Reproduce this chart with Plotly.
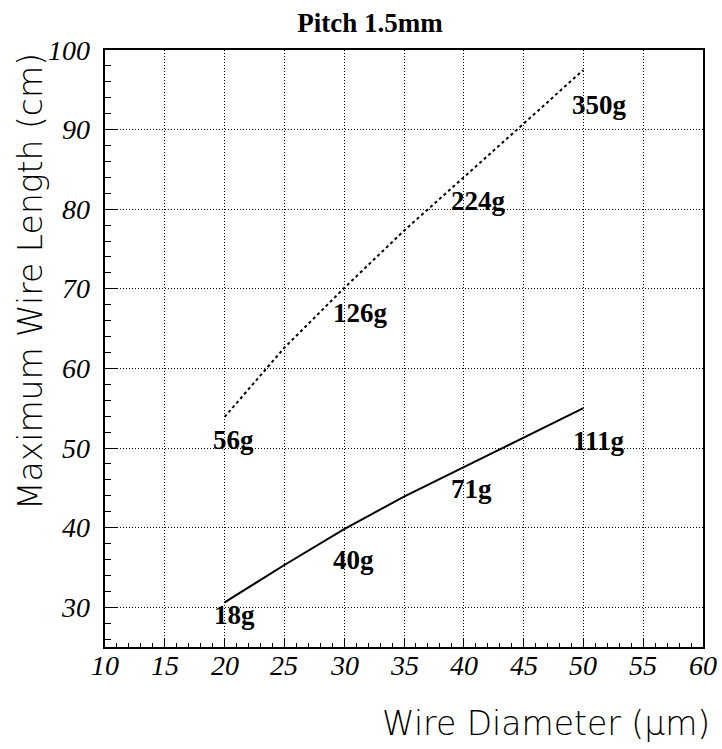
import plotly.graph_objects as go

# Wire diameter (um) and maximum stable wire length (cm) for two tensions
diameter = [20, 25, 30, 35, 40, 45, 50]
length_low_tension = [30.6, 35.3, 39.8, 43.9, 47.6, 51.3, 55.0]
length_high_tension = [53.9, 62.6, 70.1, 77.3, 84.0, 90.8, 97.5]

# Wire tension annotations at selected diameters
label_diameter = [20, 30, 40, 50]
tension_low = ["18g", "40g", "71g", "111g"]
tension_high = ["56g", "126g", "224g", "350g"]

x_ticks = [10, 15, 20, 25, 30, 35, 40, 45, 50, 55, 60]
y_ticks = [30, 40, 50, 60, 70, 80, 90, 100]

W, H = 722, 749
ML, MR, MT, MB = 105, 19, 50, 102

fig = go.Figure()

fig.add_trace(go.Scatter(
    x=diameter, y=length_low_tension, mode="lines",
    line=dict(color="black", width=2), showlegend=False, hoverinfo="skip"))
fig.add_trace(go.Scatter(
    x=diameter, y=length_high_tension, mode="lines",
    line=dict(color="black", width=2, dash="3px,3px"), showlegend=False,
    hoverinfo="skip"))

# label offsets in pixels relative to the curve point
shift_low = [(10, -13), (9, -31), (8, -22), (16, -33)]
shift_high = [(9, -23), (16, -25), (15, -24), (16, -35)]

label_font = dict(family="Liberation Serif", size=27, color="black", weight="bold")


def y_at(series, d):
    return series[diameter.index(d)]


annotations = []
for d, txt, (dx, dy) in zip(label_diameter, tension_low, shift_low):
    annotations.append(dict(x=d, y=y_at(length_low_tension, d), xref="x", yref="y",
                            text=txt, showarrow=False, xshift=dx, yshift=dy,
                            font=label_font, xanchor="center", yanchor="middle"))
for d, txt, (dx, dy) in zip(label_diameter, tension_high, shift_high):
    annotations.append(dict(x=d, y=y_at(length_high_tension, d), xref="x", yref="y",
                            text=txt, showarrow=False, xshift=dx, yshift=dy,
                            font=label_font, xanchor="center", yanchor="middle"))

# italic serif tick labels, drawn as text anchored to the axis values
tick_font = dict(family="Liberation Serif, DejaVu Serif, serif", size=28,
                 color="black", style="italic")
for v in x_ticks:
    annotations.append(dict(x=v, y=0, xref="x", yref="paper", text=str(v),
                            showarrow=False, xanchor="center", yanchor="middle",
                            yshift=-18, font=tick_font))
for v in y_ticks:
    annotations.append(dict(x=0, y=v, xref="paper", yref="y", text=str(v),
                            showarrow=False, xanchor="right", yanchor="middle",
                            xshift=-13, font=tick_font))

title_font = dict(family="DejaVu Sans", size=33, color="black", weight=200)
pw = W - ML - MR
ph = H - MT - MB
annotations.append(dict(
    text="Wire Diameter (\u03bcm)", xref="paper", yref="paper",
    x=(712 - ML) / pw, y=(H - MB - 723) / ph, showarrow=False,
    xanchor="right", yanchor="middle", font=title_font))
annotations.append(dict(
    text="Maximum Wire Length (cm)", xref="paper", yref="paper",
    x=(30 - ML) / pw, y=(H - MB - 282) / ph, showarrow=False, textangle=-90,
    xanchor="center", yanchor="middle", font=title_font))


def axis_style():
    return dict(showgrid=True, gridcolor="black", gridwidth=1, griddash="1px,2px",
                showline=True, linecolor="black", linewidth=2, mirror=True,
                zeroline=False, ticks="inside", tickcolor="black",
                showticklabels=False)


fig.update_layout(
    width=W, height=H,
    margin=dict(l=ML, r=MR, t=MT, b=MB),
    paper_bgcolor="white", plot_bgcolor="white",
    font=dict(family="Liberation Serif", color="black"),
    title=dict(text="Pitch 1.5mm", x=370 / W, xanchor="center",
               y=1 - 23 / H, yanchor="middle", yref="container",
               font=dict(family="Liberation Serif", size=27, color="black", weight="bold")),
    xaxis=dict(range=[10, 60], tickmode="array", tickvals=x_ticks,
               ticklen=8, tickwidth=1,
               minor=dict(dtick=1, tick0=10, ticks="inside", ticklen=4,
                          tickcolor="black", showgrid=False),
               **axis_style()),
    yaxis=dict(range=[25, 100], tickmode="array", tickvals=y_ticks,
               ticklen=12, tickwidth=1,
               minor=dict(dtick=2, tick0=0, ticks="inside", ticklen=6,
                          tickcolor="black", showgrid=False),
               **axis_style()),
    annotations=annotations,
)

fig.write_html("out.html")
